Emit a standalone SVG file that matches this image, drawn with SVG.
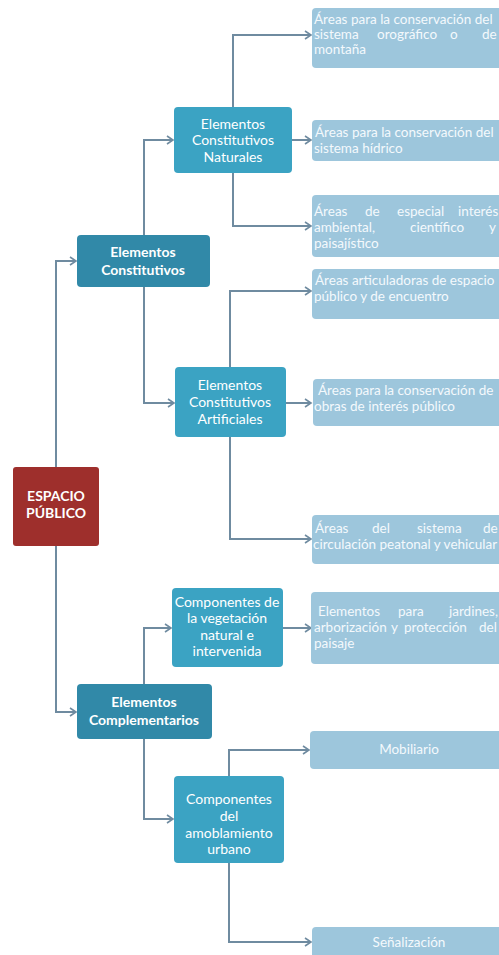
<svg xmlns="http://www.w3.org/2000/svg" width="499" height="955" viewBox="0 0 499 955">
<style>
.c{fill:none;stroke:#6f8ba0;stroke-width:2}
.root{fill:#9e2f2c}
.l1{fill:#3189a8}
.l2{fill:#3ba3c3}
.l3{fill:#9dc6dc}
text{font-family:Lato,"Liberation Sans",sans-serif;fill:#fff}
.tb{font-weight:bold;font-size:14px;text-anchor:middle}
.tm{font-size:14px;text-anchor:middle}
.ts{font-size:13.5px;fill:#f4f9fc}
.tc{font-size:13.5px;fill:#f4f9fc;text-anchor:middle}
</style>
<defs>
<marker id="a" markerWidth="10" markerHeight="10" refX="8" refY="5" orient="auto" markerUnits="userSpaceOnUse">
<path d="M2,1 L8,5 L2,9" fill="none" stroke="#6f8ba0" stroke-width="1.6"/>
</marker>
</defs>
<rect width="499" height="955" fill="#fff"/>
<g id="connectors">
<path class="c" d="M56,467 V261 H76" marker-end="url(#a)"/>
<path class="c" d="M56,546 V712 H76" marker-end="url(#a)"/>
<path class="c" d="M144,235 V140 H173" marker-end="url(#a)"/>
<path class="c" d="M144,287 V403 H174" marker-end="url(#a)"/>
<path class="c" d="M233,107 V35 H311" marker-end="url(#a)"/>
<path class="c" d="M292,140 H311" marker-end="url(#a)"/>
<path class="c" d="M233,173 V226 H311" marker-end="url(#a)"/>
<path class="c" d="M230,367 V291 H311" marker-end="url(#a)"/>
<path class="c" d="M286,403 H311" marker-end="url(#a)"/>
<path class="c" d="M230,437 V539 H311" marker-end="url(#a)"/>
<path class="c" d="M144,684 V628 H171" marker-end="url(#a)"/>
<path class="c" d="M283,628 H311" marker-end="url(#a)"/>
<path class="c" d="M144,739 V819 H173" marker-end="url(#a)"/>
<path class="c" d="M229,776 V750 H309" marker-end="url(#a)"/>
<path class="c" d="M229,863 V942 H311" marker-end="url(#a)"/>
</g>
<g id="espacio-publico">
<rect class="root" x="13" y="467" width="86" height="79" rx="3"/>
<text class="tb" x="56" y="501">ESPACIO</text>
<text class="tb" x="56" y="518">PÚBLICO</text>
</g>
<g id="elementos-constitutivos">
<rect class="l1" x="77" y="235" width="133" height="52" rx="4"/>
<text class="tb" x="143" y="257">Elementos</text>
<text class="tb" x="143" y="275">Constitutivos</text>
</g>
<g id="elementos-complementarios">
<rect class="l1" x="77" y="684" width="135" height="55" rx="4"/>
<text class="tb" x="144" y="707">Elementos</text>
<text class="tb" x="144" y="725">Complementarios</text>
</g>
<g id="naturales">
<rect class="l2" x="174" y="107" width="118" height="66" rx="4"/>
<text class="tm" x="233" y="129">Elementos</text>
<text class="tm" x="233" y="145">Constitutivos</text>
<text class="tm" x="233" y="162">Naturales</text>
</g>
<g id="artificiales">
<rect class="l2" x="175" y="367" width="111" height="70" rx="4"/>
<text class="tm" x="230" y="390">Elementos</text>
<text class="tm" x="230" y="407">Constitutivos</text>
<text class="tm" x="230" y="424">Artificiales</text>
</g>
<g id="vegetacion">
<rect class="l2" x="172" y="588" width="111" height="79" rx="4"/>
<text class="tm" x="227" y="607">Componentes de</text>
<text class="tm" x="227" y="623">la vegetación</text>
<text class="tm" x="227" y="640">natural e</text>
<text class="tm" x="227" y="656">intervenida</text>
</g>
<g id="amoblamiento">
<rect class="l2" x="174" y="776" width="110" height="87" rx="4"/>
<text class="tm" x="229" y="804">Componentes</text>
<text class="tm" x="229" y="821">del</text>
<text class="tm" x="229" y="838">amoblamiento</text>
<text class="tm" x="229" y="854">urbano</text>
</g>
<g id="orografico">
<rect class="l3" x="312" y="8" width="200" height="60" rx="4"/>
<text class="ts" x="314" y="24">Áreas para la conservación del</text>
<text class="ts" y="39"><tspan x="314">sistema</tspan><tspan x="377">orográfico</tspan><tspan x="450">o</tspan><tspan x="482">de</tspan></text>
<text class="ts" x="314" y="54">montaña</text>
</g>
<g id="hidrico">
<rect class="l3" x="312" y="120" width="200" height="41" rx="4"/>
<text class="ts" x="315" y="137">Áreas para la conservación del</text>
<text class="ts" x="314" y="153">sistema hídrico</text>
</g>
<g id="interes-ambiental">
<rect class="l3" x="312" y="195" width="200" height="62" rx="4"/>
<text class="ts" y="216"><tspan x="314">Áreas</tspan><tspan x="365">de</tspan><tspan x="397">especial</tspan><tspan x="458">interés</tspan></text>
<text class="ts" y="232"><tspan x="314">ambiental,</tspan><tspan x="410">científico</tspan><tspan x="489">y</tspan></text>
<text class="ts" x="314" y="248">paisajístico</text>
</g>
<g id="articuladoras">
<rect class="l3" x="312" y="269" width="200" height="50" rx="4"/>
<text class="ts" x="315" y="285">Áreas articuladoras de espacio</text>
<text class="ts" x="314" y="301">público y de encuentro</text>
</g>
<g id="obras">
<rect class="l3" x="313" y="379" width="200" height="47" rx="4"/>
<text class="ts" x="318" y="395">Áreas para la conservación de</text>
<text class="ts" x="314" y="411">obras de interés público</text>
</g>
<g id="circulacion">
<rect class="l3" x="312" y="515" width="200" height="49" rx="4"/>
<text class="ts" y="533"><tspan x="315">Áreas</tspan><tspan x="372">del</tspan><tspan x="417">sistema</tspan><tspan x="483">de</tspan></text>
<text class="ts" x="313" y="549">circulación peatonal y vehicular</text>
</g>
<g id="jardines">
<rect class="l3" x="311" y="592" width="200" height="72" rx="4"/>
<text class="ts" y="616"><tspan x="318">Elementos</tspan><tspan x="398">para</tspan><tspan x="449">jardines,</tspan></text>
<text class="ts" y="632"><tspan x="314">arborización</tspan><tspan x="391">y</tspan><tspan x="404">protección</tspan><tspan x="479">del</tspan></text>
<text class="ts" x="314" y="648">paisaje</text>
</g>
<g id="mobiliario">
<rect class="l3" x="310" y="731" width="200" height="38" rx="4"/>
<text class="tc" x="409" y="754">Mobiliario</text>
</g>
<g id="senalizacion">
<rect class="l3" x="312" y="927" width="200" height="34" rx="4"/>
<text class="tc" x="409" y="947">Señalización</text>
</g>
</svg>
